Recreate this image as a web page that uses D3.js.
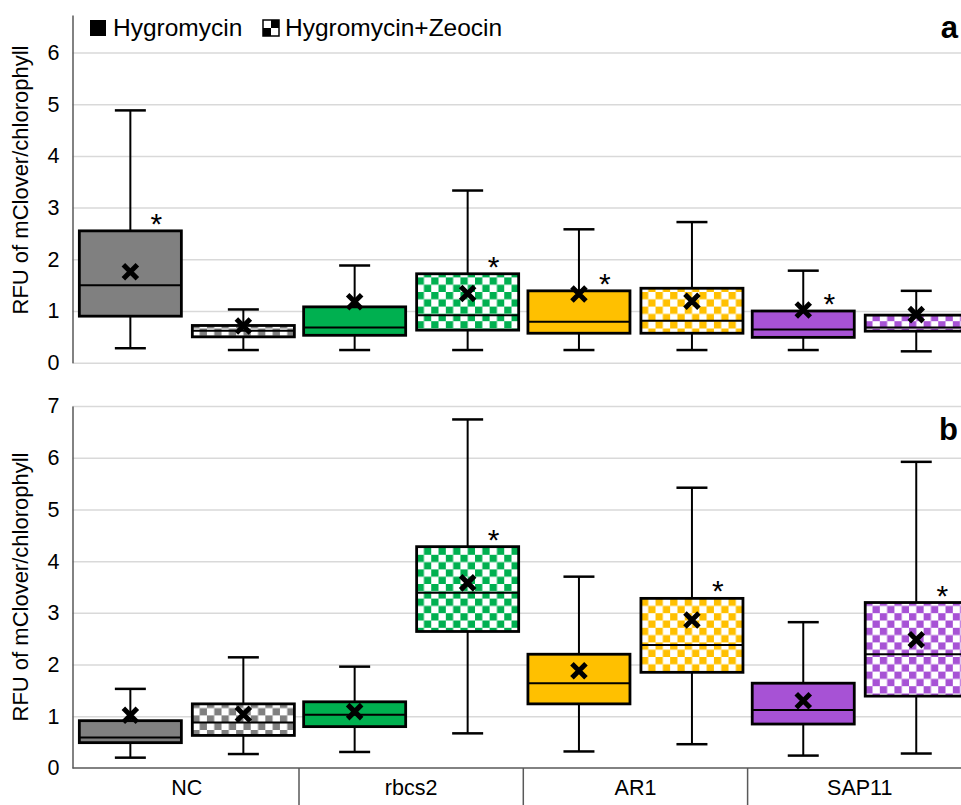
<!DOCTYPE html>
<html>
<head>
<meta charset="utf-8">
<script src="https://cdn.jsdelivr.net/npm/d3@7"></script>
<style>
  body { margin: 0; background: #fff; }
  text { font-family: "Liberation Sans", Arial, sans-serif; }
</style>
</head>
<body>
<svg id="chart" width="961" height="805"></svg>
<script>
// ---------------- DATA ----------------
const categories = ["NC", "rbcs2", "AR1", "SAP11"];
const seriesNames = ["Hygromycin", "Hygromycin+Zeocin"];
const yTicksA = [0, 1, 2, 3, 4, 5, 6];
const yTicksB = [0, 1, 2, 3, 4, 5, 6, 7];
const panelLabels = ["a", "b"];
const yTitle = "RFU of mClover/chlorophyll";

// Panel a — Hygromycin
const aHygMin  = [0.28, 0.245, 0.245, 0.245];
const aHygQ1   = [0.90, 0.53, 0.57, 0.49];
const aHygMed  = [1.50, 0.68, 0.79, 0.64];
const aHygQ3   = [2.55, 1.08, 1.39, 1.00];
const aHygMax  = [4.88, 1.88, 2.58, 1.78];
const aHygMean = [1.76, 1.18, 1.33, 1.02];
const aHygSig  = [true, false, true, true];
// Panel a — Hygromycin+Zeocin
const aZeoMin  = [0.245, 0.245, 0.245, 0.22];
const aZeoQ1   = [0.50, 0.63, 0.57, 0.61];
const aZeoMed  = [0.62, 0.92, 0.81, 0.68];
const aZeoQ3   = [0.72, 1.72, 1.44, 0.92];
const aZeoMax  = [1.03, 3.33, 2.72, 1.39];
const aZeoMean = [0.71, 1.34, 1.19, 0.93];
const aZeoSig  = [false, true, false, false];
// Panel b — Hygromycin
const bHygMin  = [0.20, 0.31, 0.32, 0.24];
const bHygQ1   = [0.49, 0.80, 1.24, 0.85];
const bHygMed  = [0.59, 1.03, 1.64, 1.12];
const bHygQ3   = [0.915, 1.28, 2.20, 1.64];
const bHygMax  = [1.53, 1.96, 3.70, 2.82];
const bHygMean = [1.02, 1.09, 1.88, 1.30];
const bHygSig  = [false, false, false, false];
// Panel b — Hygromycin+Zeocin
const bZeoMin  = [0.27, 0.67, 0.46, 0.28];
const bZeoQ1   = [0.63, 2.64, 1.85, 1.39];
const bZeoMed  = [0.88, 3.39, 2.38, 2.20];
const bZeoQ3   = [1.24, 4.28, 3.28, 3.20];
const bZeoMax  = [2.14, 6.74, 5.42, 5.92];
const bZeoMean = [1.04, 3.58, 2.86, 2.48];
const bZeoSig  = [false, true, true, true];

const catColors = ["#808080", "#00B050", "#FFC000", "#A752D5"];

// ---------------- BUILD ----------------
function build(min, q1, med, q3, max, mean, sig, s) {
  return categories.map((c, i) => ({
    cat: c, ci: i, series: s,
    min: min[i], q1: q1[i], med: med[i], q3: q3[i], max: max[i], mean: mean[i], sig: sig[i]
  }));
}
const panels = [
  {
    label: panelLabels[0], ticks: yTicksA, domain: [0, 6.725], range: [362.7, 15],
    boxes: build(aHygMin, aHygQ1, aHygMed, aHygQ3, aHygMax, aHygMean, aHygSig, 0)
      .concat(build(aZeoMin, aZeoQ1, aZeoMed, aZeoQ3, aZeoMax, aZeoMean, aZeoSig, 1)),
    titleY: 180, labelY: 38, bottomAxis: false
  },
  {
    label: panelLabels[1], ticks: yTicksB, domain: [0, 7], range: [768, 406],
    boxes: build(bHygMin, bHygQ1, bHygMed, bHygQ3, bHygMax, bHygMean, bHygSig, 0)
      .concat(build(bZeoMin, bZeoQ1, bZeoMed, bZeoQ3, bZeoMax, bZeoMean, bZeoSig, 1)),
    titleY: 587, labelY: 440, bottomAxis: true
  }
];

const svg = d3.select("#chart");
const W = 961;
const axisX = 72.5;

const x = d3.scaleBand().domain(categories).range([74.7, 74.7 + 4 * 224.3]).paddingInner(0).paddingOuter(0);
const xs = d3.scaleBand().domain([0, 1]).range([0, x.bandwidth()]).paddingInner(0.097).paddingOuter(0.041);

// checker patterns
const defs = svg.append("defs");
const cell = 7.3;
catColors.forEach((col, i) => {
  const p = defs.append("pattern")
    .attr("id", "chk" + i)
    .attr("patternUnits", "userSpaceOnUse")
    .attr("width", cell * 2).attr("height", cell * 2);
  p.append("rect").attr("width", cell * 2).attr("height", cell * 2).attr("fill", "#fff");
  p.append("rect").attr("width", cell).attr("height", cell).attr("fill", col);
  p.append("rect").attr("x", cell).attr("y", cell).attr("width", cell).attr("height", cell).attr("fill", col);
});
const lg = defs.append("pattern").attr("id", "chkLegend").attr("patternUnits", "userSpaceOnUse")
  .attr("x", 263).attr("y", 20).attr("width", 16).attr("height", 16);
lg.append("rect").attr("width", 16).attr("height", 16).attr("fill", "#fff");
lg.append("rect").attr("x", 8).attr("width", 8).attr("height", 8).attr("fill", "#000");
lg.append("rect").attr("y", 8).attr("width", 8).attr("height", 8).attr("fill", "#000");

panels.forEach(pn => {
  const y = d3.scaleLinear().domain(pn.domain).range(pn.range);
  const g = svg.append("g");

  // gridlines
  const grid = g.append("g").attr("transform", `translate(${axisX},0)`)
    .call(d3.axisLeft(y).tickValues(pn.bottomAxis ? pn.ticks.slice(1) : pn.ticks).tickSize(-(W - axisX)).tickFormat(""));
  grid.select(".domain").remove();
  grid.selectAll(".tick line").attr("stroke", "#d9d9d9").attr("stroke-width", 1.5);

  // y axis
  const ya = g.append("g").attr("transform", `translate(${axisX},0)`)
    .call(d3.axisLeft(y).tickValues(pn.ticks).tickSize(0).tickSizeOuter(0).tickPadding(13).tickFormat(d3.format("d")));
  ya.select(".domain").attr("stroke", "#595959").attr("stroke-width", 1.5);
  ya.selectAll(".tick text").attr("font-size", 21.5).attr("fill", "#000")
    .attr("font-family", "'Liberation Sans', Arial, sans-serif");

  // y title
  g.append("text")
    .attr("transform", `translate(28,${pn.titleY}) rotate(-90)`)
    .attr("text-anchor", "middle").attr("font-size", 22).attr("fill", "#000")
    .text(yTitle);

  // panel label
  g.append("text").attr("x", 958).attr("y", pn.labelY).attr("text-anchor", "end")
    .attr("font-size", 31).attr("font-weight", "bold").attr("fill", "#000").text(pn.label);

  // boxes
  const bw = xs.bandwidth();
  const cap = 31;
  const bx = g.selectAll("g.box").data(pn.boxes).enter().append("g").attr("class", "box")
    .attr("transform", d => `translate(${x(d.cat) + xs(d.series)},0)`);

  bx.append("line").attr("x1", bw / 2).attr("x2", bw / 2)
    .attr("y1", d => y(d.max)).attr("y2", d => y(d.q3)).attr("stroke", "#000").attr("stroke-width", 2);
  bx.append("line").attr("x1", bw / 2).attr("x2", bw / 2)
    .attr("y1", d => y(d.q1)).attr("y2", d => y(d.min)).attr("stroke", "#000").attr("stroke-width", 2);
  bx.append("line").attr("x1", bw / 2 - cap / 2).attr("x2", bw / 2 + cap / 2)
    .attr("y1", d => y(d.max)).attr("y2", d => y(d.max)).attr("stroke", "#000").attr("stroke-width", 2.5);
  bx.append("line").attr("x1", bw / 2 - cap / 2).attr("x2", bw / 2 + cap / 2)
    .attr("y1", d => y(d.min)).attr("y2", d => y(d.min)).attr("stroke", "#000").attr("stroke-width", 2.5);

  bx.append("rect").attr("x", 0).attr("width", bw)
    .attr("y", d => y(d.q3)).attr("height", d => y(d.q1) - y(d.q3))
    .attr("fill", d => d.series === 0 ? catColors[d.ci] : `url(#chk${d.ci})`)
    .attr("stroke", "#000").attr("stroke-width", 2.8);
  bx.append("line").attr("x1", 0).attr("x2", bw)
    .attr("y1", d => y(d.med)).attr("y2", d => y(d.med)).attr("stroke", "#000").attr("stroke-width", 2);

  bx.append("path")
    .attr("transform", d => `translate(${bw / 2},${y(d.mean)})`)
    .attr("d", "M-7,-7L7,7M7,-7L-7,7")
    .attr("stroke", "#000").attr("stroke-width", 5).attr("fill", "none");

  bx.filter(d => d.sig).append("text")
    .attr("x", bw / 2 + 26).attr("y", d => y(d.q3) + 3)
    .attr("text-anchor", "middle").attr("font-size", 30).attr("fill", "#000").text("*");

  if (pn.bottomAxis) {
    const xa = g.append("g").attr("transform", `translate(0,${pn.range[0]})`)
      .call(d3.axisBottom(x).tickSize(0).tickPadding(12));
    xa.select(".domain").remove();
    xa.selectAll(".tick text").attr("font-size", 21.5).attr("fill", "#000")
      .attr("font-family", "'Liberation Sans', Arial, sans-serif");
    g.append("line").attr("x1", axisX).attr("x2", W).attr("y1", pn.range[0]).attr("y2", pn.range[0])
      .attr("stroke", "#595959").attr("stroke-width", 1.5);
    g.selectAll("line.div").data(categories.slice(1)).enter().append("line").attr("class", "div")
      .attr("x1", d => x(d)).attr("x2", d => x(d))
      .attr("y1", pn.range[0]).attr("y2", 805)
      .attr("stroke", "#595959").attr("stroke-width", 1.5);
  }
});

// legend
const leg = svg.append("g");
leg.append("rect").attr("x", 90).attr("y", 20).attr("width", 16).attr("height", 16).attr("fill", "#000");
leg.append("text").attr("x", 113).attr("y", 36).attr("font-size", 24.5).attr("fill", "#000").text(seriesNames[0]);
leg.append("rect").attr("x", 263).attr("y", 20).attr("width", 16).attr("height", 16)
  .attr("fill", "url(#chkLegend)").attr("stroke", "#000").attr("stroke-width", 1.5);
leg.append("text").attr("x", 285).attr("y", 36).attr("font-size", 24.5).attr("fill", "#000").text(seriesNames[1]);
</script>
</body>
</html>
